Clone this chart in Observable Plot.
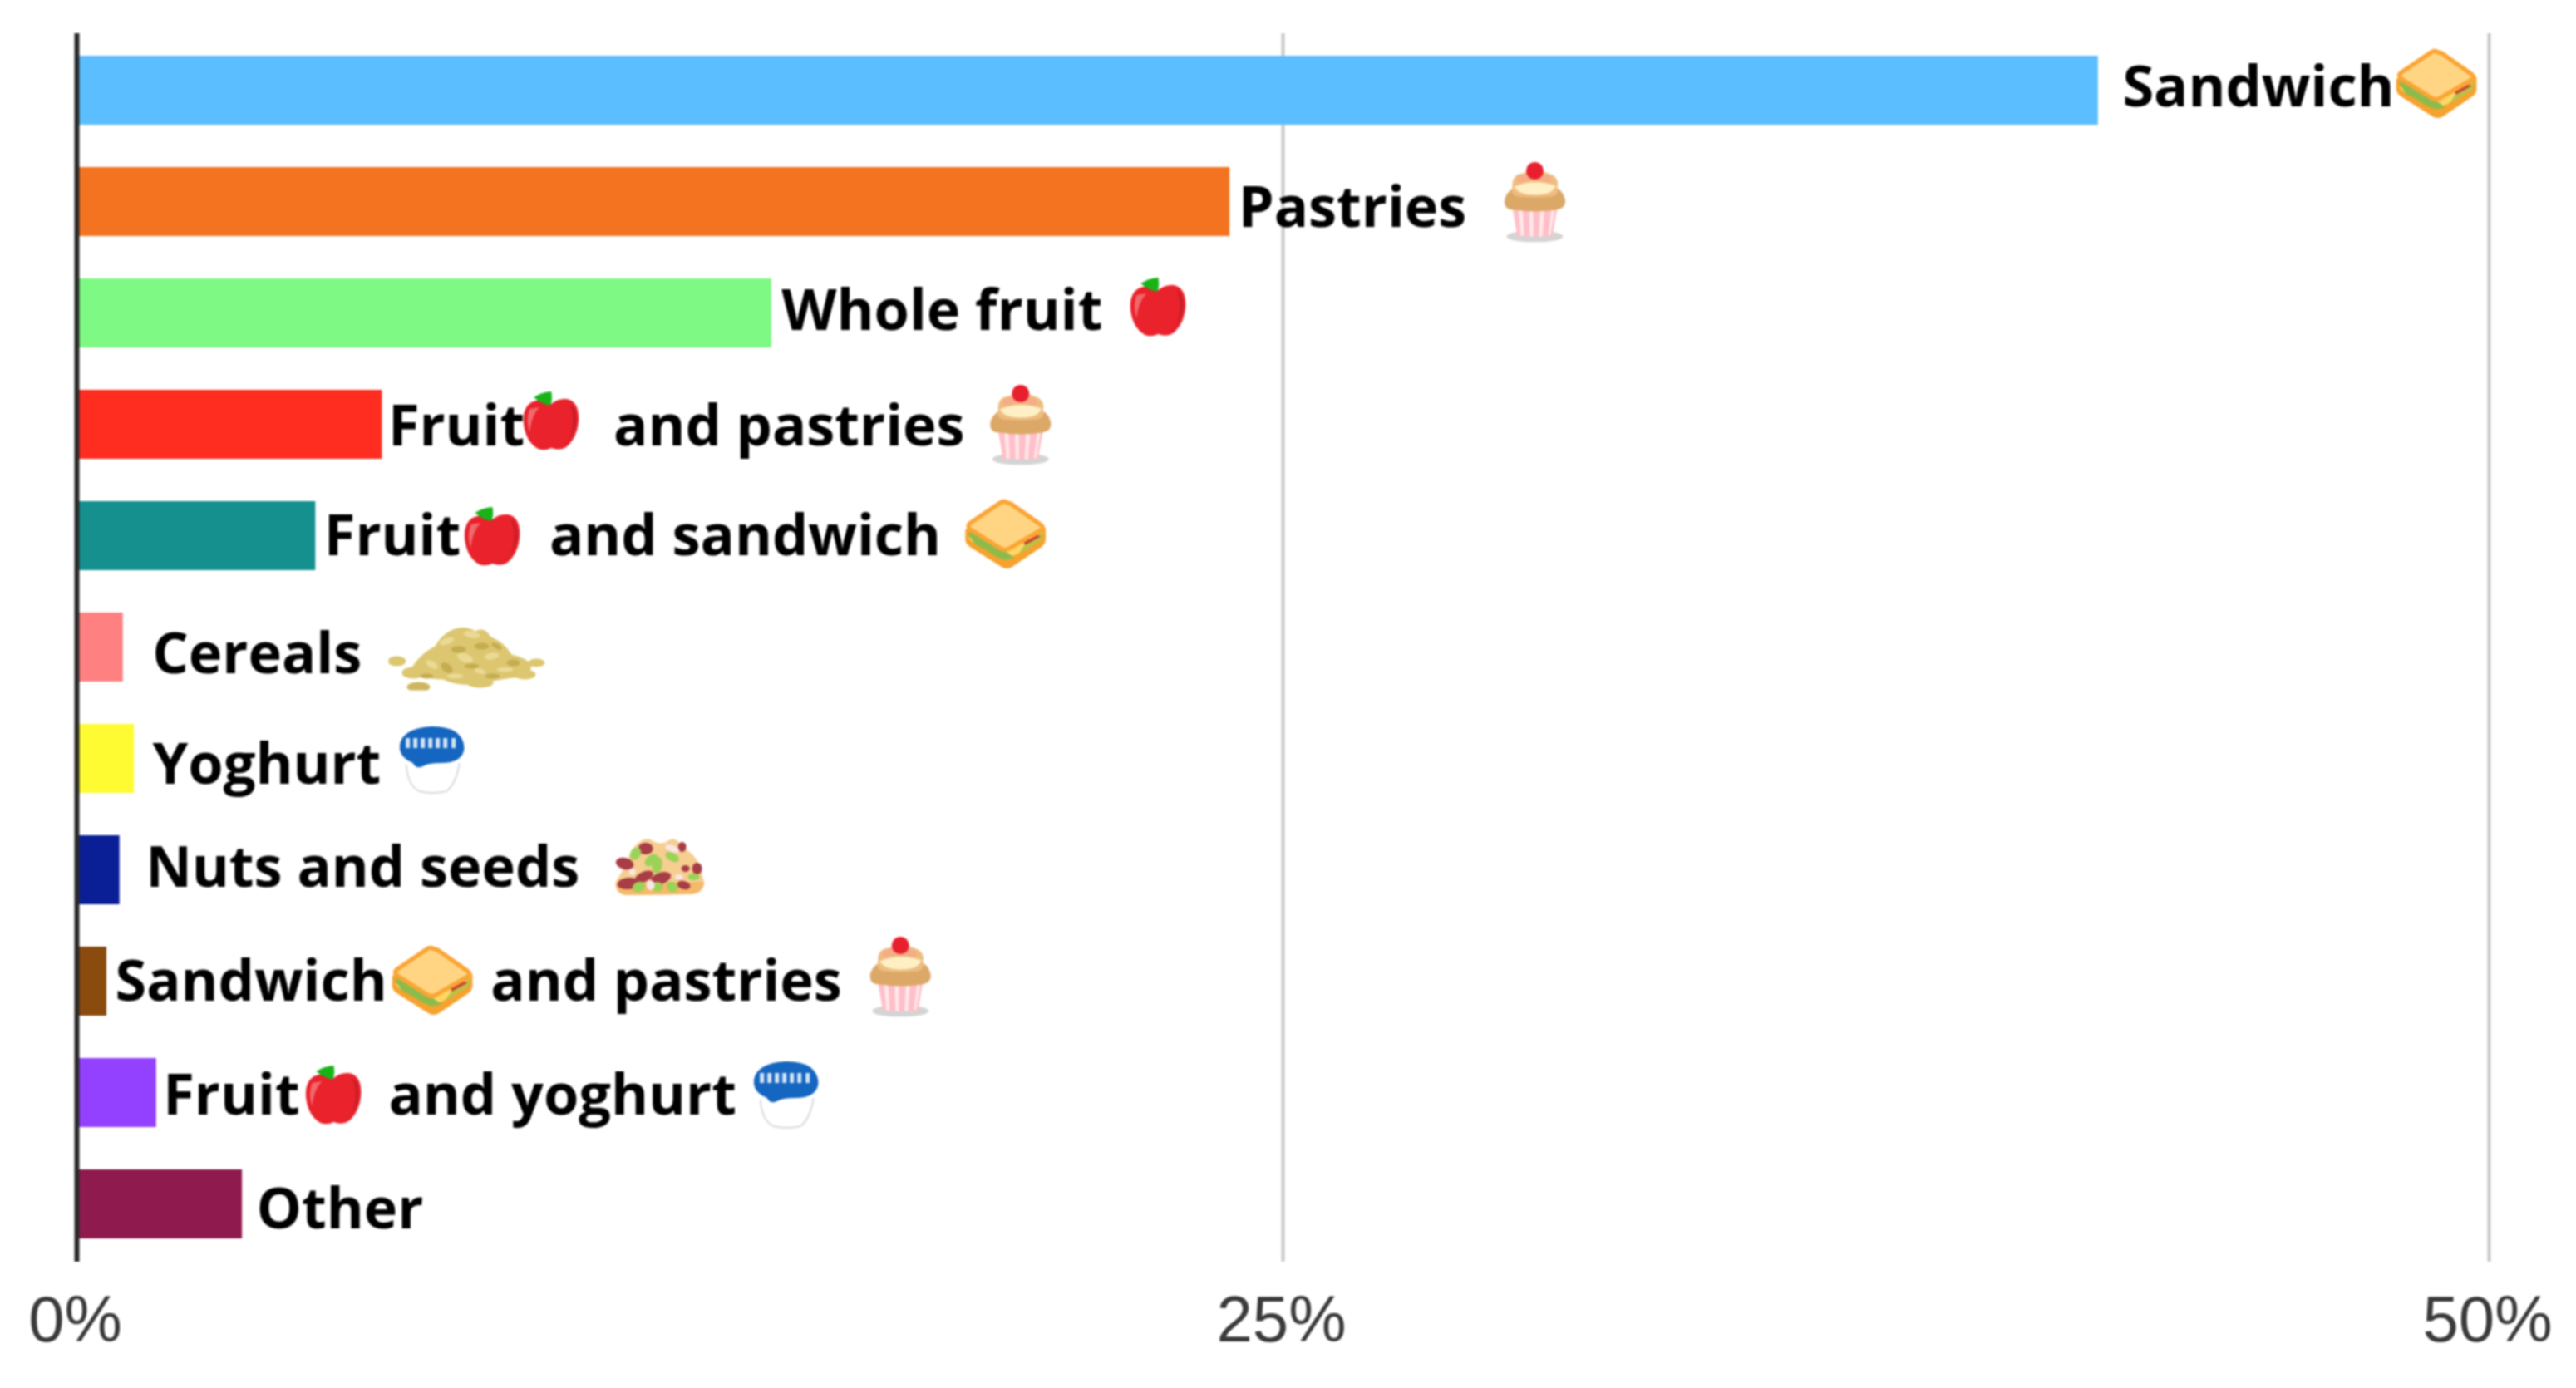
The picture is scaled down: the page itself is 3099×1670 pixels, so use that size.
<!DOCTYPE html>
<html>
<head>
<meta charset="utf-8">
<script src="https://cdn.jsdelivr.net/npm/d3@7"></script>
<script src="https://cdn.jsdelivr.net/npm/@observablehq/plot@0.6"></script>
<style>
html,body{margin:0;padding:0;background:#fff}
</style>
</head>
<body>
<div id="chart"></div>
<script>
const gap3 = "\u00a0".repeat(6), gap4 = "\u00a0".repeat(7);
const categories = ["Sandwich","Pastries","Whole fruit","Fruit and pastries","Fruit and sandwich","Cereals","Yoghurt","Nuts and seeds","Sandwich and pastries","Fruit and yoghurt","Other"];
const values = [41.9,23.9,14.4,6.33,4.95,0.96,1.19,0.89,0.62,1.65,3.43];
const labels = ["Sandwich","Pastries","Whole fruit","Fruit"+gap3+"and pastries","Fruit"+gap3+"and sandwich","Cereals","Yoghurt","Nuts and seeds","Sandwich"+gap4+"and pastries","Fruit"+gap3+"and yoghurt","Other"];
const colors = ["#5BBFFF","#F37321","#7DF984","#FF2D20","#15908F","#FF8080","#FFFB33","#0A1F96","#8B4A0E","#9340FF","#8F1B4E"];
const xTicks = [0,25,50];

// Hand placement of the labels and pictures, as in the reference
const labelDx = [29,10,12,7,10,35,22,31,10,8,17];
const labelDy = [-3,8,-2,3,1,9,8,-2,1,4,7];
const pictures = [
  [0,"sandwich",48.91,-9],[1,"cupcake",30.22,0],[2,"apple",22.43,-7],
  [3,"apple",9.85,-4],[3,"cupcake",19.56,0],[4,"apple",8.63,1],[4,"sandwich",19.25,-3],
  [5,"cereal",8.08,13],[6,"yoghurt",7.36,1],[7,"nuts",12.08,-6],
  [8,"sandwich",7.37,-2],[8,"cupcake",17.07,-6],[9,"apple",5.34,3],[9,"yoghurt",14.7,2]
];

const ell = (list, fill) => list.map(([x,y,a,b,r=0]) => `<ellipse cx="${x}" cy="${y}" rx="${a}" ry="${b}" fill="${fill}" transform="rotate(${r} ${x} ${y})"/>`).join("");
const svgs = {
  sandwich: [100,84,`
    <g transform="scale(1.05)">
    <path d="M3 36 L3 48 Q4 52 9 55 L44 77 Q49 80 54 77 L88 54 Q92 51 92 46 L92 34 Z" fill="#F6A22E" stroke="#F6A22E" stroke-width="3" stroke-linejoin="round"/>
    <path d="M4 44 L12 52 L22 50 L36 64 L48 68 L60 64 L70 58 L88 46 L92 38 L48 60 Z" fill="#FFD766"/>
    <path d="M5 40 L12 52 L24 58 L36 66 L46 70 L58 68 L50 62 L30 52 L8 38 Z" fill="#8DBB4B"/>
    <path d="M62 64 L72 58 L88 48 L92 38 L85 42 L70 52 Z" fill="#B9C24A"/>
    <path d="M70 53 L88 43 L84 42 L68 50 Z" fill="#C8402E"/>
    <path d="M48 4 Q45 2 41 5 L7 28 Q3 31 7 35 L42 57 Q47 60 52 57 L88 36 Q92 33 88 30 L54 6 Z" fill="#FFD584" stroke="#FAA535" stroke-width="5" stroke-linejoin="round"/>
    </g>`],
  cupcake: [76,97,`
    <ellipse cx="38" cy="90" rx="34" ry="7" fill="#aaa" opacity=".5"/>
    <path d="M10 50 L66 50 L59 90 L17 90 Z" fill="#FFBFC8"/>
    <path d="M18 50 L21 89 L25 89 L23 50 Z M31 50 L32 90 L36 90 L36 50 Z M45 50 L43 90 L47 90 L50 50 Z M59 50 L54 89 L57 88 L63 50 Z" fill="#FFE9EC"/>
    <path d="M2 44 Q-1 58 13 58 Q38 62 64 58 Q77 56 74 44 Q70 30 58 32 Q38 26 18 31 Q6 32 2 44 Z" fill="#DCA868"/>
    <path d="M11 31 Q10 15 24 14 Q38 7 54 14 Q68 18 65 31 Q68 40 58 42 Q38 44 18 42 Q8 40 11 31 Z" fill="#EDBD80"/>
    <path d="M13 30 Q38 20 63 29 Q60 40 38 40 Q18 40 13 30 Z" fill="#FFEFC4"/>
    <path d="M18 18 Q38 10 56 18 Q60 24 54 25 Q38 20 20 25 Q14 24 18 18 Z" fill="#F5AC88"/>
    <circle cx="38" cy="11" r="10.5" fill="#E8202E"/>`],
  apple: [70,74,`
    <path d="M34 16 Q22 8 10 14 Q-2 22 1 42 Q4 62 18 70 Q26 73 34 69 Q44 73 52 68 Q66 56 67 34 Q67 12 52 10 Q42 9 34 16 Z" fill="#E9222C"/>
    <path d="M8 22 Q3 36 8 50 Q10 30 20 20 Z" fill="#F0686C"/>
    <path d="M56 16 Q63 30 58 52 Q54 62 48 66 Q64 52 64 34 Q64 20 56 16 Z" fill="#C81E28"/>
    <path d="M13 8 Q22 2 34 1 Q36 10 33 18 Q22 16 13 8 Z" fill="#17B317"/>`],
  cereal: [188,77,`
    <path d="M24 56 Q36 34 56 24 Q66 6 84 2 Q96 0 104 6 Q116 0 122 12 Q140 20 148 34 Q165 38 172 46 Q172 62 150 62 Q120 66 108 70 Q80 72 66 64 Q46 64 24 56 Z" fill="#DCC670"/>
    ${ell([[10,42,11,6],[30,56,14,7],[178,44,10,5],[164,58,13,6],[110,68,16,6]],"#DCC670")}
    ${ell([[36,73,14,6]],"#CDB65E")}
    ${ell([[70,18,9,4,-20],[100,10,10,4,10],[52,46,8,4,30],[92,38,10,5,20],[124,36,9,4,-10],[80,60,10,3],[140,52,10,3],[110,54,7,3,15]],"#EBDA94")}
    ${ell([[84,28,9,4],[112,24,9,4],[70,50,8,5,40],[130,24,7,3,30],[100,48,9,3],[150,44,8,4],[46,60,8,3],[125,60,9,3]],"#C4AC50")}`],
  nuts: [110,72,`
    <path d="M2 56 Q14 38 20 20 Q30 4 42 4 Q56 14 66 6 Q74 0 82 14 Q100 24 104 40 L109 58 Q106 70 92 71 L14 72 Q2 70 2 56 Z" fill="#F5CE90"/>
    <path d="M2 58 L108 56 Q108 70 92 71 L14 72 Q2 70 2 58 Z" fill="#F4B96A"/>
    ${ell([[13,34,11,7,15],[17,58,13,7,-5],[36,50,12,6,-25],[56,52,13,7,-20],[38,16,9,7],[82,14,5,6],[86,40,5,4],[100,40,6,7],[84,60,8,5,15]],"#A83D45")}
    ${ell([[26,22,6,8,30],[45,30,9,6,-40],[52,36,6,10,10],[30,62,8,6,-20],[52,62,7,6],[70,62,7,6,30],[70,26,9,5,30],[96,50,7,4]],"#9BD257")}
    ${ell([[44,60,5,6],[70,16,9,4,20],[22,44,4,4],[78,50,5,3]],"#FBE6E6")}`],
  yoghurt: [78,84,`
    <path d="M8 48 Q10 74 24 80 Q40 84 56 80 Q68 72 72 46" fill="#fff" stroke="#D8DADF" stroke-width="2"/>
    <path d="M39 2 Q76 2 78 28 Q76 46 50 46 Q34 46 28 50 Q20 54 16 46 Q0 40 0 26 Q2 4 39 2 Z" fill="#1566C0"/>
    <path d="M10 16 V28 M19 16 V28 M28 16 V28 M37 16 V28 M46 16 V28 M55 16 V28 M65 16 V28" stroke="#D5E4F5" stroke-width="5"/>`]
};
const src = name => {
  const [w,h,body] = svgs[name];
  return "data:image/svg+xml;charset=utf-8," + encodeURIComponent(
    `<svg xmlns="http://www.w3.org/2000/svg" width="${w}" height="${h}" viewBox="0 0 ${w} ${h}">${body}</svg>`);
};

const rows = categories.map((name,i) => ({name, value: values[i], label: labels[i], color: colors[i], dx: labelDx[i], dy: labelDy[i]}));

const chart = Plot.plot({
  width: 3099,
  height: 1670,
  marginTop: 40,
  marginRight: 105,
  marginBottom: 152,
  marginLeft: 92,
  style: {background:"#fff", filter:"blur(1.3px)"},
  x: {domain:[0,50]},
  y: {domain: categories, paddingInner:.38, paddingOuter:.19},
  marks: [
    Plot.ruleX([25,50], {stroke:"#C8C8C8", strokeWidth:4}),
    Plot.barX(rows, {x:"value", y:"name", fill:"color"}),
    Plot.ruleX([0], {stroke:"#2A2A2A", strokeWidth:6}),
    ...rows.map(r => Plot.text([r], {
      x:"value", y:"name", text:"label", textAnchor:"start",
      dx:r.dx, dy:r.dy, fontFamily:"Open Sans", fontWeight:700, fontSize:68.5, fill:"#000"
    })),
    ...pictures.map(([row,name,x,dy]) => Plot.image([{x, name:categories[row]}], {
      x:"x", y:"name", src:src(name), width:svgs[name][0], height:svgs[name][1], dy
    })),
    Plot.axisY({ticks:[], label:null, tickSize:0}),
    Plot.axisX({ticks:xTicks, tickFormat:d=>d+"%", tickSize:0, tickPadding:40, label:null, dx:-2,
      fontSize:78, fontFamily:"Liberation Sans", fill:"#3A3A3A", stroke:"#3A3A3A", strokeWidth:1, anchor:"bottom"})
  ]
});
document.getElementById("chart").append(chart);
</script>
</body>
</html>
